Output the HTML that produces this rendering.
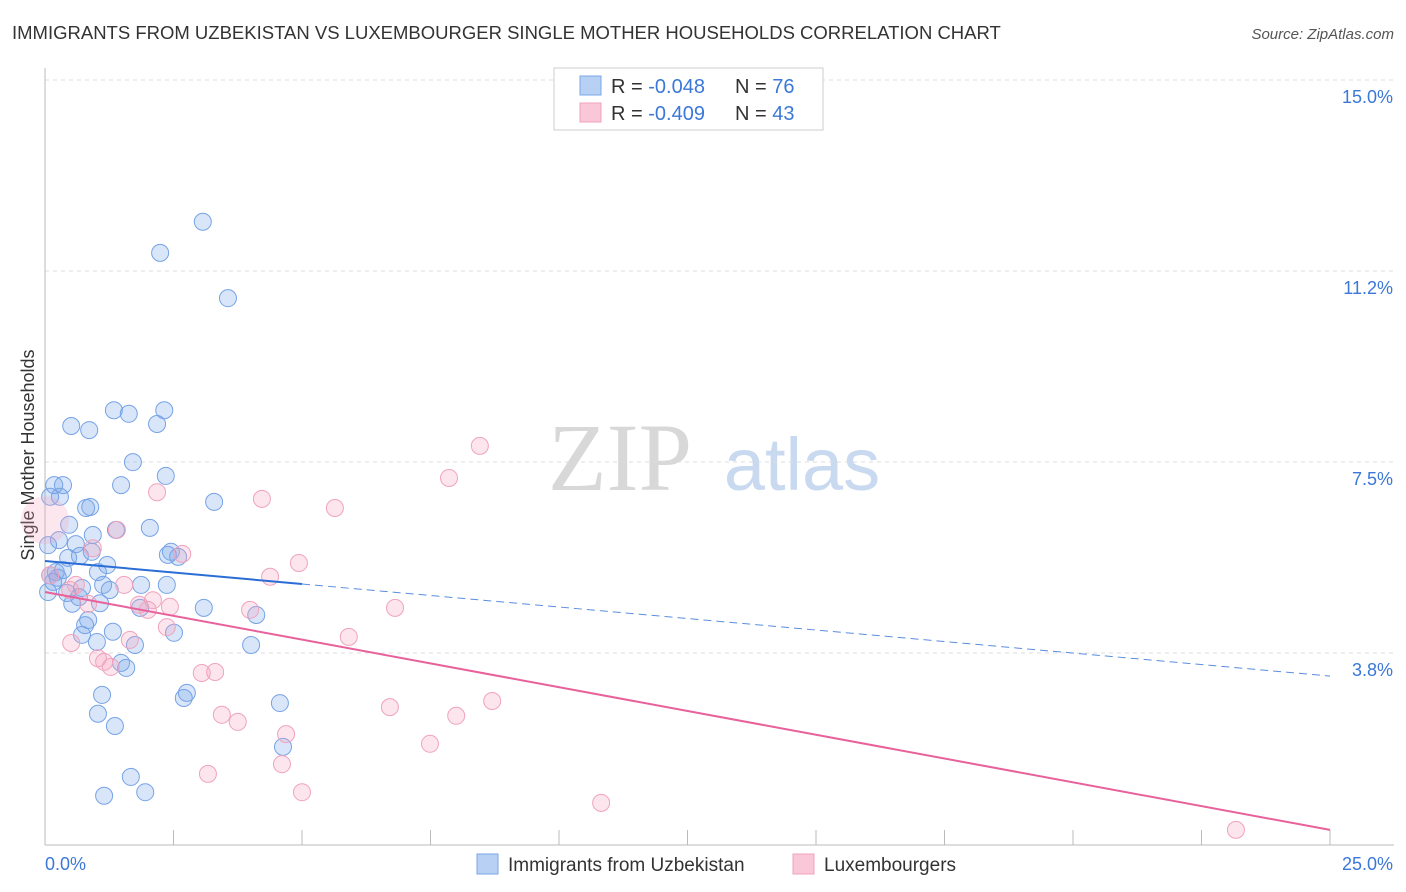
<!DOCTYPE html>
<html><head><meta charset="utf-8"><style>
body{margin:0;background:#fff;font-family:"Liberation Sans",sans-serif;}
#wrap{position:relative;width:1406px;height:892px;overflow:hidden;}
</style></head><body>
<div id="wrap">
<svg id="svg" width="1406" height="892" xmlns="http://www.w3.org/2000/svg">
<text x="12" y="39" font-size="18.5" fill="#333">IMMIGRANTS FROM UZBEKISTAN VS LUXEMBOURGER SINGLE MOTHER HOUSEHOLDS CORRELATION CHART</text>
<text x="1394" y="39" font-size="15" fill="#555" font-style="italic" text-anchor="end">Source: ZipAtlas.com</text>
<text transform="translate(34,455) rotate(-90)" font-size="18" fill="#333" text-anchor="middle">Single Mother Households</text>
<g>
<text x="620" y="490" font-size="96" font-family="Liberation Serif,serif" fill="#d8d8d8" text-anchor="middle">ZIP</text>
<text x="802" y="490" font-size="74" fill="#c9daf0" text-anchor="middle">atlas</text>
</g>
<g id="grid"></g>
<g id="axes"></g>
<g id="marks"></g>
<g id="lines"></g>
<g>
<rect x="554" y="68" width="269" height="62" fill="#fff" stroke="#ccc"/>
<rect x="580" y="76" width="21" height="19" fill="#b7d0f3" stroke="#7aa7e8"/>
<rect x="580" y="103" width="21" height="19" fill="#f9c7d7" stroke="#f0a0bc"/>
<text x="611" y="93" font-size="20" fill="#333">R = <tspan fill="#3b78d8">-0.048</tspan></text>
<text x="735" y="93" font-size="20" fill="#333">N = <tspan fill="#3b78d8">76</tspan></text>
<text x="611" y="120" font-size="20" fill="#333">R = <tspan fill="#3b78d8">-0.409</tspan></text>
<text x="735" y="120" font-size="20" fill="#333">N = <tspan fill="#3b78d8">43</tspan></text>
</g>
<g>
<rect x="477" y="854" width="21" height="20" fill="#b7d0f3" stroke="#7aa7e8"/>
<text x="508" y="871" font-size="19" fill="#333">Immigrants from Uzbekistan</text>
<rect x="793" y="854" width="21" height="20" fill="#f9c7d7" stroke="#f0a0bc"/>
<text x="824" y="871" font-size="19" fill="#333">Luxembourgers</text>
</g>
</svg>
</div>
<script>
const yTicks=[15.0,11.25,7.5,3.75];
const yTickLabels=["15.0%","11.2%","7.5%","3.8%"];
const xTicks=[0,2.5,5,7.5,10,12.5,15,17.5,20,22.5,25];
const xTickLabels=["0.0%","25.0%"];
const blueX=[3.07,2.24,3.56,1.34,2.32,1.63,0.51,0.86,2.18,1.71,2.35,0.18,0.35,1.48,3.29,0.80,0.88,0.10,0.47,2.04,1.38,0.93,0.27,0.60,0.91,0.06,0.68,0.45,2.45,2.59,2.39,1.21,1.03,0.10,0.21,0.35,0.25,1.13,1.87,2.37,0.72,1.26,0.43,0.06,0.66,1.07,0.53,1.85,3.09,4.11,0.84,0.78,1.32,0.72,2.51,1.01,1.75,4.01,1.48,1.58,1.11,2.76,2.70,4.57,1.03,1.36,4.63,1.67,1.15,1.95,0.29,0.16];
const blueY=[12.55,11.94,11.05,8.85,8.85,8.78,8.54,8.46,8.58,7.83,7.56,7.38,7.38,7.38,7.05,6.93,6.95,7.15,6.60,6.54,6.50,6.40,6.30,6.22,6.07,6.20,5.99,5.95,6.07,5.97,6.01,5.81,5.67,5.61,5.67,5.71,5.56,5.42,5.42,5.42,5.36,5.32,5.26,5.28,5.18,5.06,5.05,4.97,4.97,4.83,4.73,4.63,4.50,4.44,4.48,4.30,4.24,4.24,3.89,3.79,3.26,3.30,3.20,3.10,2.89,2.65,2.24,1.65,1.28,1.35,7.15,5.48];
const pinkX=[8.46,7.86,2.18,4.22,5.64,1.40,0.93,2.67,4.94,0.60,4.38,1.54,2.10,1.83,2.43,3.99,6.81,0.84,2.37,5.91,0.51,1.03,1.15,1.28,3.05,3.31,8.70,6.71,8.00,3.44,3.75,4.69,7.49,4.61,3.17,5.00,10.82,23.17,0.10,1.65,0.49,2.00];
const pinkY=[8.15,7.52,7.24,7.11,6.93,6.50,6.14,6.03,5.85,5.42,5.58,5.42,5.12,5.03,4.99,4.93,4.97,5.05,4.59,4.40,4.28,3.98,3.91,3.81,3.69,3.71,3.14,3.02,2.85,2.87,2.73,2.49,2.30,1.90,1.71,1.35,1.14,0.61,5.61,4.34,5.32,4.93];
const bigPinkX=[0], bigPinkY=[6.69];
const blueTrend=[5.89,3.63]; const blueSolidEnd=5.0;
const pinkTrend=[5.28,0.61];
const X=v=>45+v*51.4;
const Y=v=>97+(15-v)*50.93;
const NS="http://www.w3.org/2000/svg";
function mk(tag,attrs,parent){const e=document.createElementNS(NS,tag);for(const k in attrs)e.setAttribute(k,attrs[k]);document.getElementById(parent).appendChild(e);return e;}
yTicks.forEach((t,i)=>{
 const g=mk('line',{x1:45,x2:1394,y1:Y(t)-17,y2:Y(t)-17,stroke:'#ddd','stroke-dasharray':'4,4'},'grid');
 
 
 const l=mk('text',{x:1393,y:Y(t)+6,'font-size':18,fill:'#3b78d8','text-anchor':'end'},'grid');
 l.textContent=yTickLabels[i];
 
 
});
const ax=mk('line',{x1:45,x2:45,y1:68,y2:845,stroke:'#bbb'},'axes');


const bx=mk('line',{x1:45,x2:1394,y1:845,y2:845,stroke:'#bbb'},'axes');


xTicks.forEach(t=>{
 const tk=mk('line',{x1:X(t),x2:X(t),y1:830,y2:845,stroke:'#bbb'},'axes');
 
 
});
const xl0=mk('text',{x:45,y:870,'font-size':18,fill:'#3b78d8'},'axes');
xl0.textContent=xTickLabels[0];


const xl1=mk('text',{x:1393,y:870,'font-size':18,fill:'#3b78d8','text-anchor':'end'},'axes');
xl1.textContent=xTickLabels[1];


blueX.forEach((x,i)=>{
 const c=mk('circle',{cx:X(x),cy:Y(blueY[i]),r:8.5,fill:'rgba(120,165,235,0.28)',stroke:'#76a3e6','stroke-width':1},'marks');
 
 
});
pinkX.forEach((x,i)=>{
 const c=mk('circle',{cx:X(x),cy:Y(pinkY[i]),r:8.5,fill:'rgba(244,160,190,0.28)',stroke:'#f0a3be','stroke-width':1},'marks');
 
 
});
bigPinkX.forEach((x,i)=>{
 const c=mk('circle',{cx:X(x),cy:Y(bigPinkY[i]),r:24,fill:'rgba(244,160,190,0.25)',stroke:'none'},'marks');
 
 
});
const bs=blueTrend[0]+(blueTrend[1]-blueTrend[0])*blueSolidEnd/25;
const l1=mk('line',{x1:X(0),y1:Y(blueTrend[0]),x2:X(blueSolidEnd),y2:Y(bs),stroke:'#2a6dd6','stroke-width':2},'lines');


const l2=mk('line',{x1:X(blueSolidEnd),y1:Y(bs),x2:X(25),y2:Y(blueTrend[1]),stroke:'#5a8de0','stroke-width':1,'stroke-dasharray':'8,5'},'lines');


const l3=mk('line',{x1:X(0),y1:Y(pinkTrend[0]),x2:X(25),y2:Y(pinkTrend[1]),stroke:'#e8619a','stroke-width':2},'lines');


</script>
</body></html>
